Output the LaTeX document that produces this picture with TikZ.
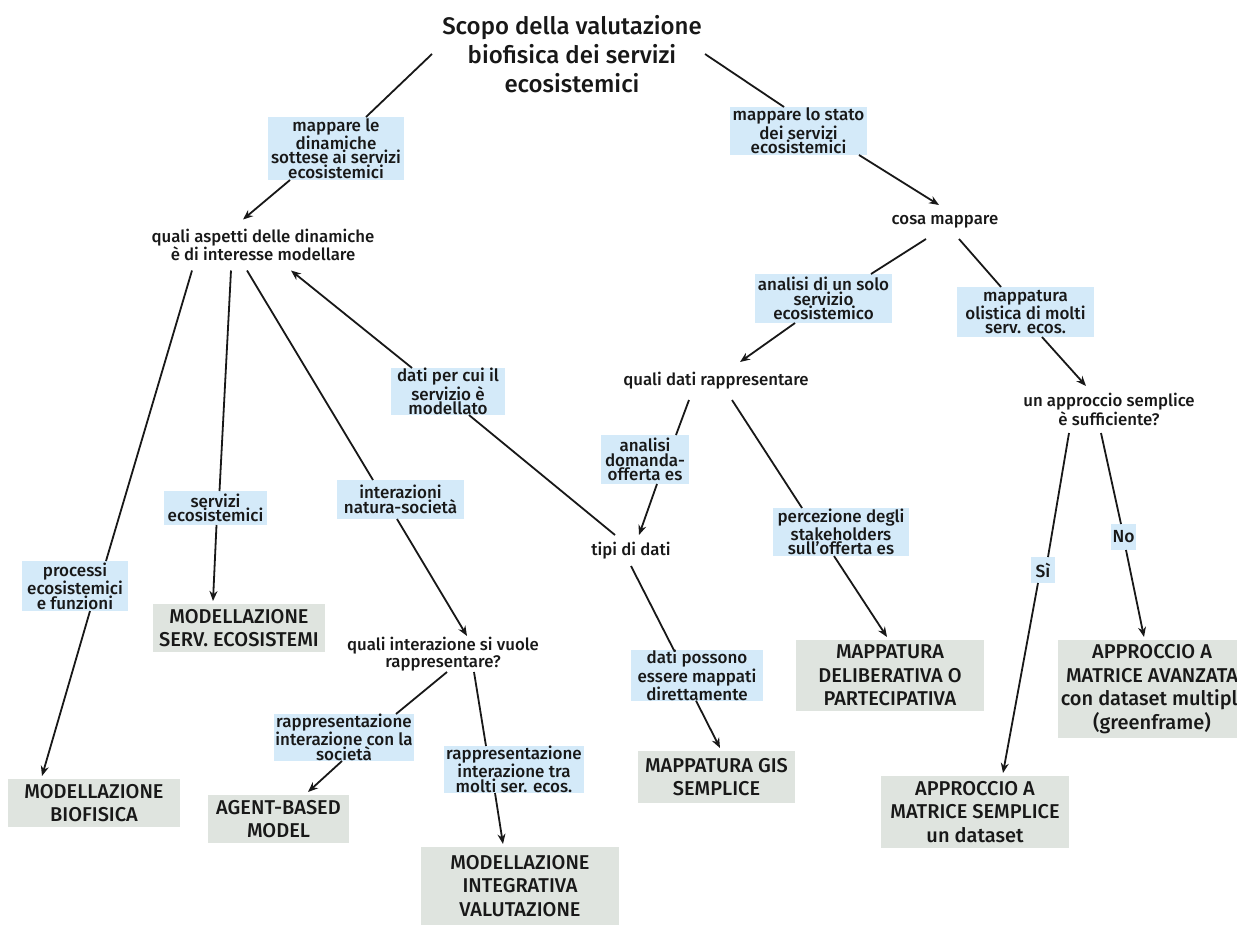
\documentclass[tikz,border=0pt]{standalone}
\usepackage{fontspec}
\setmainfont{Fira Sans}
\newfontfamily\medfont{Fira Sans Medium}
\usetikzlibrary{arrows.meta}

\definecolor{linkblue}{RGB}{212,234,249}
\definecolor{boxgray}{RGB}{223,228,223}
\definecolor{ink}{RGB}{24,24,24}

\tikzset{
  headline/.style={align=center, text=ink, inner sep=0pt, outer sep=0pt,
    font=\medfont\fontsize{24}{29}\selectfont},
  concept/.style={align=center, text=ink, inner sep=0pt, outer sep=0pt,
    font=\medfont\fontsize{16.8}{14.6}\selectfont},
  link/.style={fill=linkblue, align=center, text=ink, inner sep=0pt, outer sep=0pt,
    font=\medfont\fontsize{17}{14.6}\selectfont},
  result/.style={fill=boxgray, align=center, text=ink, inner sep=0pt, outer sep=3pt,
    font=\medfont\fontsize{20}{23.5}\selectfont},
  conn/.style={draw=ink, line width=1.8pt},
  arr/.style={conn, -{Stealth[length=10pt,width=8pt]}},
}

\begin{document}
\begin{tikzpicture}[x=1pt, y=-1pt]
\useasboundingbox (0,0) rectangle (1237,926);
\clip (0,0) rectangle (1237,926);
\fill[white] (0,0) rectangle (1237,926);

% ---- concepts (plain text)
\node[headline, minimum width=280pt] (tt) at (572,54)
  {Scopo della valutazione\\biofisica dei servizi\\ecosistemici};
\node[concept, minimum width=230pt, minimum height=51pt] (qa) at (263,245)
  {quali aspetti delle dinamiche\\è di interesse modellare};
\node[concept, minimum width=120pt, minimum height=34pt] (cm) at (945,222)
  {cosa mappare};
\node[concept, minimum width=190pt, minimum height=38pt] (qd) at (716,381)
  {quali dati rappresentare};
\node[concept, minimum width=180pt, minimum height=47pt] (ua) at (1109,409.5)
  {un approccio semplice\\è sufficiente?};
\node[concept, minimum width=80pt, minimum height=31pt] (td) at (631,550.5)
  {tipi di dati};
\node[concept, minimum width=200pt, minimum height=36pt] (qi) at (443,654)
  {quali interazione si vuole\\rappresentare?};

% ---- linking phrases
\node[link, minimum width=136pt, minimum height=63pt] (lab1) at (336,148.5)
  {mappare le\\dinamiche\\sottese ai servizi\\ecosistemici};
\node[link, minimum width=137pt, minimum height=48pt] (mls) at (798.5,131)
  {mappare lo stato\\dei servizi\\ecosistemici};
\node[link, minimum width=137pt, minimum height=49pt] (ans) at (823.5,298.5)
  {analisi di un solo\\servizio\\ecosistemico};
\node[link, minimum width=137pt, minimum height=50pt] (mol) at (1025.5,312)
  {mappatura\\olistica di molti\\serv. ecos.};
\node[link, minimum width=114pt, minimum height=47pt] (dpc) at (448,391.5)
  {dati per cui il\\servizio è\\modellato};
\node[link, minimum width=88pt, minimum height=49pt] (dom) at (645,459.5)
  {analisi\\domanda-\\offerta es};
\node[link, minimum width=136pt, minimum height=48pt] (perc) at (841,532)
  {percezione degli\\stakeholders\\sull’offerta es};
\node[link, minimum width=103pt, minimum height=34pt] (serv) at (215.5,508)
  {servizi\\ecosistemici};
\node[link, minimum width=127pt, minimum height=39pt] (inter) at (400.5,499.5)
  {interazioni\\natura-società};
\node[link, minimum width=106pt, minimum height=50pt] (proc) at (75,586)
  {processi\\ecosistemici\\e funzioni};
\node[link, minimum width=140pt, minimum height=47pt] (soc) at (344,737.5)
  {rappresentazione\\interazione con la\\società};
\node[link, minimum width=140pt, minimum height=47pt] (tra) at (514,769.5)
  {rappresentazione\\interazione tra\\molti ser. ecos.};
\node[link, minimum width=132pt, minimum height=49pt] (dpm) at (697,675.5)
  {dati possono\\essere mappati\\direttamente};
\node[link, minimum width=24pt, minimum height=26pt, font=\medfont\fontsize{17.5}{17.5}\selectfont] (si) at (1043,570) {Sì};
\node[link, minimum width=25pt, minimum height=26pt, font=\medfont\fontsize{17.5}{17.5}\selectfont] (no) at (1123.5,537) {No};

% ---- outcomes
\node[result, minimum width=172pt, minimum height=48pt] (mb) at (94,803)
  {MODELLAZIONE\\BIOFISICA};
\node[result, minimum width=172pt, minimum height=48pt] (mse) at (239,628)
  {MODELLAZIONE\\SERV. ECOSISTEMI};
\node[result, minimum width=141pt, minimum height=48pt] (abm) at (278.5,819)
  {AGENT-BASED\\MODEL};
\node[result, minimum width=198pt, minimum height=78pt] (miv) at (520,886)
  {MODELLAZIONE\\INTEGRATIVA\\VALUTAZIONE};
\node[result, minimum width=157pt, minimum height=52pt] (gis) at (716.5,777)
  {MAPPATURA GIS\\SEMPLICE};
\node[result, minimum width=188pt, minimum height=71pt] (mdp) at (890,675.5)
  {MAPPATURA\\DELIBERATIVA O\\PARTECIPATIVA};
\node[result, minimum width=188pt, minimum height=72pt] (mxs) at (975,812)
  {APPROCCIO A\\MATRICE SEMPLICE\\un dataset};
\node[result, minimum width=188pt, minimum height=98pt] (mxa) at (1152,689)
  {APPROCCIO A\\MATRICE AVANZATA\\con dataset multipli\\(greenframe)};

% ---- connectors
\draw[conn] (tt.west) -- ([xshift=30pt]lab1.north);
\draw[arr]  ([xshift=-46pt]lab1.south) -- ([xshift=-20pt]qa.north);
\draw[conn] ([xshift=-7pt]tt.east) -- ([xshift=-14.5pt]mls.north);
\draw[arr]  ([xshift=60.5pt]mls.south) -- ([xshift=-6pt]cm.north);

\draw[conn] ([xshift=-71pt]qa.south) -- ([xshift=31pt]proc.north);
\draw[arr]  ([xshift=15pt]proc.south) -- ([xshift=-52pt]mb.north);
\draw[conn] ([xshift=-32pt]qa.south) -- ([xshift=4pt]serv.north);
\draw[arr]  ([xshift=1pt]serv.south) -- ([xshift=-26pt]mse.north);
\draw[conn] ([xshift=-16pt]qa.south) -- ([xshift=-27.5pt]inter.north);
\draw[arr]  ([xshift=-3.5pt]inter.south) -- ([xshift=24pt]qi.north);
\draw[conn] ([xshift=4pt]qi.south) -- ([xshift=52pt]soc.north);
\draw[arr]  ([xshift=-2pt]soc.south) -- ([xshift=29.5pt]abm.north);
\draw[conn] ([xshift=31pt]qi.south) -- ([xshift=-28pt]tra.north);
\draw[arr]  ([xshift=-19pt]tra.south) -- ([xshift=-17pt]miv.north);

\draw[conn] ([xshift=-16pt]td.north) -- ([xshift=21pt]dpc.south);
\draw[arr]  ([xshift=-36pt]dpc.north) -- ([xshift=28pt]qa.south);

\draw[conn] ([xshift=-19pt]cm.south) -- ([xshift=47.5pt]ans.north);
\draw[arr]  ([xshift=-28.5pt]ans.south) -- ([xshift=24pt]qd.north);
\draw[conn] ([xshift=-27pt]qd.south) -- ([xshift=31pt]dom.north);
\draw[arr]  ([xshift=12pt]dom.south) -- ([xshift=8pt]td.north);
\draw[conn] ([xshift=16pt]qd.south) -- ([xshift=-39pt]perc.north);
\draw[arr]  ([xshift=-7pt]perc.south) -- ([xshift=-3pt]mdp.north);
\draw[conn] (td.south) -- ([xshift=-23pt]dpm.north);
\draw[arr]  ([xshift=-1pt]dpm.south) -- ([xshift=3.5pt]gis.north);

\draw[conn] ([xshift=14pt]cm.south) -- ([xshift=-24.5pt]mol.north);
\draw[arr]  ([xshift=16.5pt]mol.south) -- ([xshift=-23pt]ua.north);
\draw[conn] ([xshift=-40pt]ua.south) -- ([xshift=5pt]si.north);
\draw[arr]  ([xshift=-5pt]si.south) -- ([xshift=28pt]mxs.north);
\draw[conn] ([xshift=-8pt]ua.south) -- ([xshift=-2.5pt]no.north);
\draw[arr]  ([xshift=2.5pt]no.south) -- ([xshift=-8pt]mxa.north);
\end{tikzpicture}
\end{document}
